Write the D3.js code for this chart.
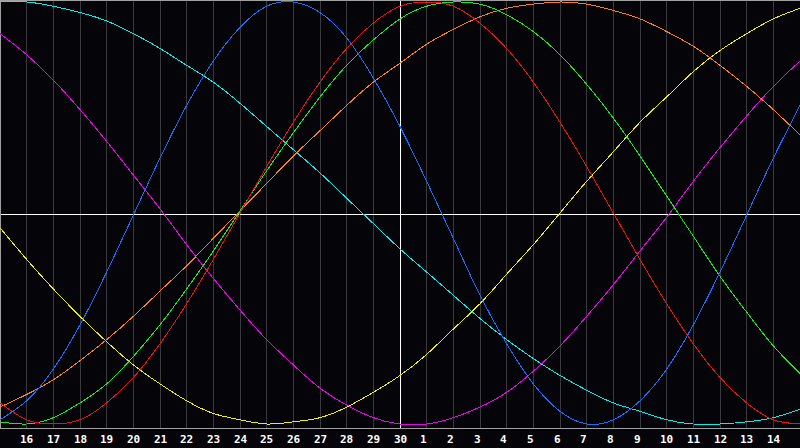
<!DOCTYPE html>
<html>
<head>
<meta charset="utf-8">
<script src="https://cdn.jsdelivr.net/npm/d3@7"></script>
<style>
  html, body { margin: 0; padding: 0; background: #050408; }
  svg { display: block; }
</style>
</head>
<body>
<svg id="chart" width="800" height="448"></svg>
<script>
// Day labels along the bottom (index 0 and 30 are the chart edges, unlabeled)
var dayLabels = ["15", "16", "17", "18", "19", "20", "21", "22", "23", "24", "25", "26", "27", "28", "29", "30",
  "1", "2", "3", "4", "5", "6", "7", "8", "9", "10", "11", "12", "13", "14", "15"];
var todayIndex = 15;

// Cycle values, one per day (index 0..30)
var physical = [-0.98, -0.89, -0.74, -0.53, -0.28, -0.01, 0.26, 0.51, 0.72, 0.88, 0.98, 1.00, 0.95, 0.83, 0.64, 0.41,
  0.15, -0.12, -0.39, -0.62, -0.81, -0.94, -1.00, -0.98, -0.89, -0.74, -0.53, -0.28, -0.01, 0.26, 0.51];
var emotional = [-0.90, -0.98, -1.00, -0.98, -0.90, -0.78, -0.62, -0.43, -0.22, 0.00, 0.22, 0.43, 0.62, 0.78, 0.90, 0.98,
  1.00, 0.98, 0.90, 0.78, 0.62, 0.43, 0.22, 0.00, -0.22, -0.43, -0.62, -0.78, -0.90, -0.98, -1.00];
var intellectual = [-0.99, -1.00, -0.97, -0.90, -0.81, -0.68, -0.53, -0.36, -0.18, 0.01, 0.20, 0.38, 0.55, 0.70, 0.82, 0.92,
  0.98, 1.00, 0.99, 0.94, 0.86, 0.75, 0.61, 0.45, 0.27, 0.08, -0.11, -0.30, -0.47, -0.63, -0.76];
var intuitive = [0.85, 0.75, 0.63, 0.49, 0.34, 0.18, 0.02, -0.15, -0.31, -0.46, -0.60, -0.72, -0.83, -0.91, -0.97, -1.00,
  -1.00, -0.97, -0.92, -0.85, -0.75, -0.63, -0.49, -0.34, -0.18, -0.02, 0.15, 0.31, 0.46, 0.60, 0.72];
var aesthetic = [-0.07, -0.22, -0.36, -0.49, -0.61, -0.72, -0.81, -0.89, -0.95, -0.98, -1.00, -0.99, -0.97, -0.92, -0.85, -0.77,
  -0.67, -0.55, -0.43, -0.29, -0.15, 0.00, 0.15, 0.29, 0.43, 0.55, 0.67, 0.77, 0.85, 0.92, 0.97];
var awareness = [-0.92, -0.86, -0.79, -0.70, -0.60, -0.49, -0.37, -0.25, -0.12, 0.01, 0.14, 0.27, 0.39, 0.51, 0.62, 0.71,
  0.80, 0.87, 0.93, 0.97, 0.99, 1.00, 0.99, 0.96, 0.92, 0.86, 0.79, 0.70, 0.60, 0.49, 0.37];
var spiritual = [1.00, 1.00, 0.98, 0.95, 0.91, 0.85, 0.78, 0.70, 0.62, 0.52, 0.41, 0.30, 0.19, 0.07, -0.05, -0.17,
  -0.28, -0.39, -0.50, -0.60, -0.69, -0.77, -0.84, -0.90, -0.94, -0.98, -1.00, -1.00, -0.99, -0.97, -0.93];

var cycleNames = ["spiritual", "intuitive", "aesthetic", "awareness", "intellectual", "emotional", "physical"];
var cycleValues = [spiritual, intuitive, aesthetic, awareness, intellectual, emotional, physical];
var cycleColors = ["#00f0f0", "#f000f0", "#f0f000", "#ff8010", "#10f010", "#f01010", "#1070ff"];

function renderBiorhythm() {
  var svg = d3.select("#chart"),
    width = 800,
    plotBottom = 428;

  var x = d3.scaleLinear().domain([0, dayLabels.length - 1]).range([0, width]);
  var y = d3.scaleLinear().domain([-1, 1]).range([424, 2]);

  svg.append("rect")
    .attr("width", 800).attr("height", 448)
    .attr("fill", "#050408");

  // vertical day grid
  var grid = svg.append("g").attr("shape-rendering", "crispEdges");
  d3.range(1, dayLabels.length - 1).forEach(function(i) {
    var gx = Math.floor(x(i)) + 0.5;
    grid.append("line")
      .attr("x1", gx).attr("x2", gx)
      .attr("y1", 1).attr("y2", plotBottom)
      .attr("stroke", i === todayIndex ? "#ffffff" : "#3a3a3e")
      .attr("stroke-width", 1);
  });

  // zero line
  var zy = Math.round(y(0)) + 1.5;
  grid.append("line")
    .attr("x1", 0).attr("x2", width)
    .attr("y1", zy).attr("y2", zy)
    .attr("stroke", "#ffffff");

  // frame: top, left and the bottom axis line
  grid.append("line").attr("x1", 0).attr("x2", width).attr("y1", 0.5).attr("y2", 0.5).attr("stroke", "#a0a0a0");
  grid.append("line").attr("x1", 0.5).attr("x2", 0.5).attr("y1", 0).attr("y2", plotBottom).attr("stroke", "#a0a0a0");
  grid.append("line").attr("x1", 0).attr("x2", width)
    .attr("y1", plotBottom + 0.5).attr("y2", plotBottom + 0.5).attr("stroke", "#a0a0a0");

  var line = d3.line()
    .x(function(d, i) { return x(i); })
    .y(function(d) { return y(d); })
    .curve(d3.curveNatural);

  var curves = svg.append("g");
  cycleValues.forEach(function(vals, k) {
    curves.append("path")
      .datum(vals)
      .attr("id", "cycle-" + cycleNames[k])
      .attr("d", line)
      .attr("fill", "none")
      .attr("stroke", cycleColors[k])
      .attr("stroke-width", 1)
      .attr("shape-rendering", "crispEdges");
  });

  // day labels under the axis
  svg.append("g")
    .selectAll("text")
    .data(d3.range(1, dayLabels.length - 1))
    .enter().append("text")
      .attr("x", function(i) { return Math.floor(x(i)) - 6; })
      .attr("y", 443)
      .attr("fill", "#ffffff")
      .attr("font-family", "DejaVu Sans Mono, monospace")
      .attr("font-weight", "bold")
      .attr("font-size", 11)
      .text(function(i) { return dayLabels[i]; });
}

renderBiorhythm();
</script>
</body>
</html>
